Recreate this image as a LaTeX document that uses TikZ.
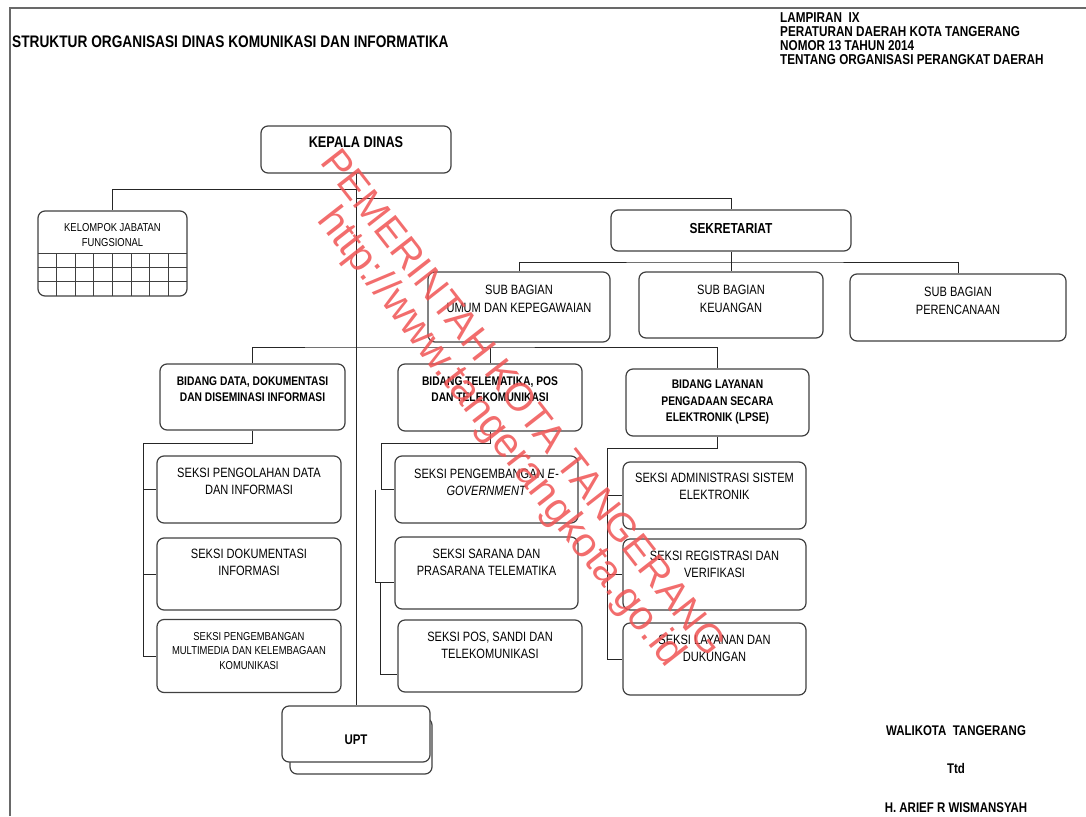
\documentclass[tikz,border=0pt]{standalone}
\usepackage{fontspec}
\setmainfont{Liberation Sans}[FakeStretch=0.82]
\newfontfamily\wmfont{Liberation Sans}
\usetikzlibrary{positioning}
\definecolor{wmred}{RGB}{240,84,84}
\definecolor{framegray}{RGB}{105,105,105}
\tikzset{
  kotak/.style={draw=black!75, line width=1.2pt, rounded corners=7pt, fill=white},
  garis/.style={draw=black!85, line width=1pt},
  isi/.style={align=center, inner sep=0pt, font=\fontsize{13.5}{17}\selectfont},
  isikecil/.style={align=center, inner sep=0pt, font=\fontsize{11.5}{14.5}\selectfont},
  tebal/.style={align=center, inner sep=0pt, font=\bfseries\fontsize{12.5}{16.5}\selectfont},
  wm/.style={wmred, text opacity=0.85, inner sep=0pt, rotate=-52},
}
\begin{document}
\begin{tikzpicture}[x=1pt,y=-1pt]
\useasboundingbox (0,0) rectangle (1086,816);
% bingkai
\draw[framegray, line width=1.8pt] (10,816) -- (10,8) -- (1086,8);

% judul
\node[inner sep=0pt, anchor=west, font=\bfseries\fontsize{16.7}{20}\selectfont] (jdl) at (12,42)
  {STRUKTUR ORGANISASI DINAS KOMUNIKASI DAN INFORMATIKA};
\node[inner sep=0pt, anchor=north west, align=left, font=\bfseries\fontsize{14.3}{14}\selectfont] (lampiran) at (780,12)
  {LAMPIRAN~~IX\\PERATURAN DAERAH KOTA TANGERANG\\NOMOR 13 TAHUN 2014\\TENTANG ORGANISASI PERANGKAT DAERAH};

% kepala dinas
\node[kotak, minimum width=190, minimum height=47] (kepala) at (356,149.5) {};
\node[tebal, font=\bfseries\fontsize{15.5}{18}\selectfont] (kepalat) at (356,142) {KEPALA DINAS};

% kelompok jabatan fungsional
\node[kotak, minimum width=149, minimum height=85] (fungsi) at (112.5,253.5) {};
\node[isikecil] (fungsit) at (112.5,235) {KELOMPOK JABATAN\\FUNGSIONAL};
\foreach \y in {253,267,281}{
  \draw[black!75, line width=1pt] (38,\y) -- (187,\y);
}
\foreach \i in {1,...,7}{
  \draw[black!75, line width=1pt] (38+\i*18.625,253) -- (38+\i*18.625,296);
}

% sekretariat
\node[kotak, minimum width=240, minimum height=41] (sek) at (731,230.5) {};
\node[tebal, font=\bfseries\fontsize{14.5}{17}\selectfont] (sekt) at (731,229) {SEKRETARIAT};
\node[kotak, minimum width=182, minimum height=70] (sbumum) at (519,307) {};
\node[isi, font=\fontsize{13.5}{18}\selectfont] (sbumumt) at (519,299) {SUB BAGIAN\\UMUM DAN KEPEGAWAIAN};
\node[kotak, minimum width=184, minimum height=66] (sbkeu) at (731,305) {};
\node[isi, font=\fontsize{13.5}{18}\selectfont] (sbkeut) at (731,299) {SUB BAGIAN\\KEUANGAN};
\node[kotak, minimum width=216, minimum height=67] (sbren) at (958,307.5) {};
\node[isi, font=\fontsize{13.5}{18}\selectfont] (sbrent) at (958,301) {SUB BAGIAN\\PERENCANAAN};

% bidang
\node[kotak, minimum width=185, minimum height=66] (bdata) at (252.5,397) {};
\node[tebal] (bdatat) at (252.5,389) {BIDANG DATA, DOKUMENTASI\\DAN DISEMINASI INFORMASI};
\node[kotak, minimum width=184, minimum height=67] (btele) at (490,397.5) {};
\node[tebal] (btelet) at (490,389) {BIDANG TELEMATIKA, POS\\DAN TELEKOMUNIKASI};
\node[kotak, minimum width=183, minimum height=67] (blpse) at (717.5,402.5) {};
\node[tebal] (blpset) at (717.5,402) {BIDANG LAYANAN\\PENGADAAN SECARA\\ELEKTRONIK (LPSE)};

% seksi bidang data
\node[kotak, minimum width=184, minimum height=67] (s11) at (249,489.5) {};
\node[isi] (s11t) at (249,481.5) {SEKSI PENGOLAHAN DATA\\DAN INFORMASI};
\node[kotak, minimum width=184, minimum height=72] (s12) at (249,574) {};
\node[isi] (s12t) at (249,562.5) {SEKSI DOKUMENTASI\\INFORMASI};
\node[kotak, minimum width=184, minimum height=73] (s13) at (249,656) {};
\node[isikecil] (s13t) at (249,651) {SEKSI PENGEMBANGAN\\MULTIMEDIA DAN KELEMBAGAAN\\KOMUNIKASI};

% seksi bidang telematika
\node[kotak, minimum width=183, minimum height=67] (s21) at (486.5,489.5) {};
\node[isi] (s21t) at (486.5,482.5) {SEKSI PENGEMBANGAN \textit{E-}\\\textit{GOVERNMENT}};
\node[kotak, minimum width=183, minimum height=72] (s22) at (486.5,573) {};
\node[isi] (s22t) at (486.5,562) {SEKSI SARANA DAN\\PRASARANA TELEMATIKA};
\node[kotak, minimum width=184, minimum height=72] (s23) at (490,656) {};
\node[isi] (s23t) at (490,645.5) {SEKSI POS, SANDI DAN\\TELEKOMUNIKASI};

% seksi bidang lpse
\node[kotak, minimum width=183, minimum height=67] (s31) at (714.5,495.5) {};
\node[isi] (s31t) at (714.5,486.3) {SEKSI ADMINISTRASI SISTEM\\ELEKTRONIK};
\node[kotak, minimum width=183, minimum height=71] (s32) at (714.5,574.5) {};
\node[isi] (s32t) at (714.5,564) {SEKSI REGISTRASI DAN\\VERIFIKASI};
\node[kotak, minimum width=183, minimum height=72] (s33) at (714.5,659) {};
\node[isi] (s33t) at (714.5,648) {SEKSI LAYANAN DAN\\DUKUNGAN};

% upt
\node[kotak, minimum width=142, minimum height=56] (uptbg) at (361,746) {};
\node[kotak, minimum width=148, minimum height=56] (upt) at (356,734) {};
\node[tebal, font=\bfseries\fontsize{14}{17}\selectfont] (uptt) at (356,740) {UPT};

% garis
\coordinate (jfung) at (356,189);
\coordinate (jsek) at (356,198);
\coordinate (jsub) at (731,262);
\coordinate (jbid) at (356,347);
\coordinate (jd) at (143,443);
\coordinate (jt) at (381,443);
\coordinate (jl) at (607,448);
\draw[garis] (kepala.south) -- (upt.north);
\draw[garis] (jfung) -| (fungsi.north);
\draw[garis] (jsek) -| (sek.north);
\draw[garis] (sek.south) -- (sbkeu.north);
\draw[garis] (sbumum.north) |- (jsub) -| (sbren.north);
\draw[garis] (bdata.north) |- (jbid) -| (blpse.north);
\draw[garis] (btele.north) -- (btele.north |- jbid);
\draw[garis] (bdata.south) |- (jd) |- (s13.west);
\draw[garis] (jd |- s11.west) -- (s11.west);
\draw[garis] (jd |- s12.west) -- (s12.west);
\draw[garis] (btele.south) |- (jt) |- (s21.west);
\draw[garis] ([xshift=-19]s21.west) |- ([yshift=-9]s22.west);
\draw[garis] ([xshift=-14,yshift=-9]s22.west) |- ([yshift=-18]s23.west);
\draw[garis] (blpse.south) |- (jl) |- (s33.west);
\draw[garis] (jl |- s31.west) -- (s31.west);
\draw[garis] (jl |- s32.west) -- (s32.west);

% tanda tangan
\node[inner sep=0pt, font=\bfseries\fontsize{14}{17}\selectfont] (walikota) at (956,731) {WALIKOTA~~TANGERANG};
\node[inner sep=0pt, font=\bfseries\fontsize{14}{17}\selectfont] (ttd) at (956,768) {Ttd};
\node[inner sep=0pt, font=\bfseries\fontsize{14}{17}\selectfont] (nama) at (956,808) {H. ARIEF R WISMANSYAH};

% watermark
\node[wm, font=\wmfont\fontsize{39.5}{40}\selectfont] (wm1) at (524,402) {PEMERINTAH KOTA TANGERANG};
\node[wm, font=\wmfont\fontsize{41.5}{42}\selectfont] (wm2) at (500,438) {http://www.tangerangkota.go.id};
\end{tikzpicture}
\end{document}
